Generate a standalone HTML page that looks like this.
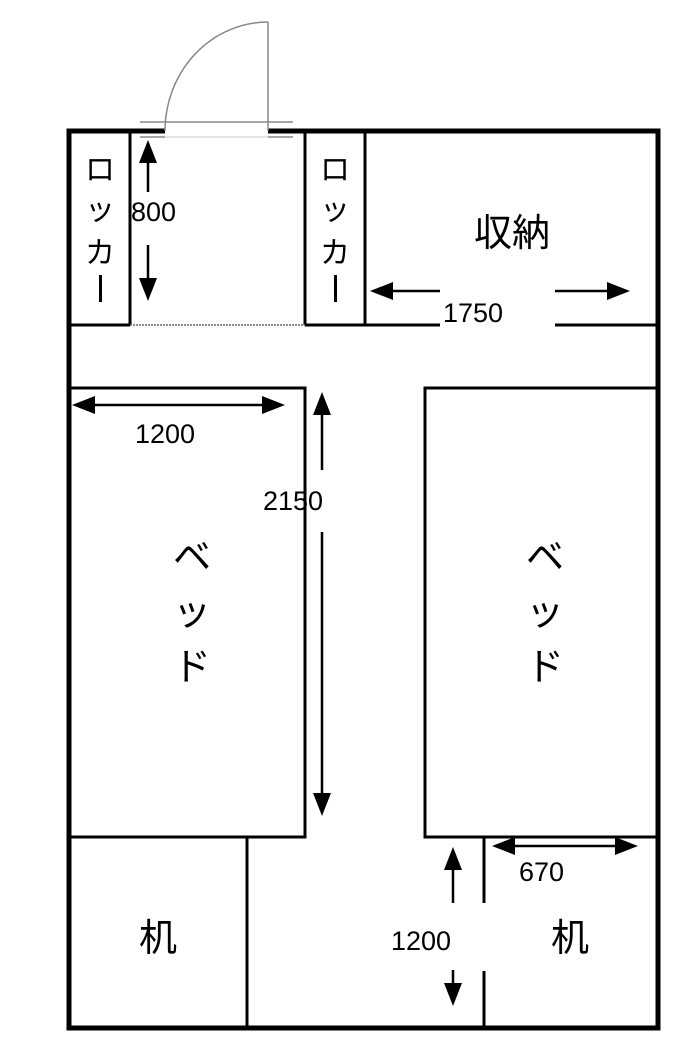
<!DOCTYPE html>
<html><head><meta charset="utf-8"><style>
body{margin:0;background:#fff}
svg{display:block}
text{font-family:"Liberation Sans","Noto Sans CJK JP",sans-serif;fill:#000}
</style></head><body>
<svg width="693" height="1059" viewBox="0 0 693 1059">
<g stroke="#000" fill="none">
<path d="M165,131H69V1028H658V131H268" stroke-width="5"/>
<path d="M130,131V325M69,325H130M305,131V325M365,131V325M305,325H440M555,325H658" stroke-width="3"/>
<path d="M130,325H305" stroke-width="1.5" stroke-dasharray="2,1" stroke="#666"/>
<path d="M69,388H305V837H69M658,388H425V837H658" stroke-width="3"/>
<path d="M247,837V1028M484,837V903M484,971V1028" stroke-width="3"/>
</g>
<g stroke="#888" fill="none" stroke-width="1.5">
<path d="M268,131V22"/>
<path d="M165,131A103,109 0 0 1 268,22"/>
<path d="M140,122H293M140,137H165M268,137H293"/>
</g>
<path d="M165,137H268" stroke="#ccc" stroke-width="1"/>
<g stroke="#000" stroke-width="2.5" fill="none">
<path d="M148,192V160M148,245V280"/>
<path d="M440,291H390M555,291H610"/>
<path d="M92,405H265"/>
<path d="M322,470V412M322,532V795"/>
<path d="M512,846H618"/>
<path d="M453,903V867M453,970V985"/>
</g>
<g fill="#000">
<polygon points="148,140 139,163 157,163"/>
<polygon points="148,301 139,278 157,278"/>
<polygon points="370,291 393,282 393,300"/>
<polygon points="630,291 607,282 607,300"/>
<polygon points="72,405 95,396 95,414"/>
<polygon points="285,405 262,396 262,414"/>
<polygon points="322,392 313,415 331,415"/>
<polygon points="322,816 313,793 331,793"/>
<polygon points="492,846 515,837 515,855"/>
<polygon points="638,846 615,837 615,855"/>
<polygon points="453,847 444,870 462,870"/>
<polygon points="453,1006 444,983 462,983"/>
</g>
<g font-size="27">
<text x="131" y="221">800</text>
<text x="443" y="322">1750</text>
<text x="135" y="443">1200</text>
<text x="263" y="510">2150</text>
<text x="519" y="881">670</text>
<text x="391" y="950">1200</text>
</g>
<g font-size="30" text-anchor="middle">
<text x="100" y="180">ロ</text><text x="100" y="220">ッ</text><text x="100" y="263">カ</text>
<text x="335" y="180">ロ</text><text x="335" y="220">ッ</text><text x="335" y="263">カ</text>
</g>
<g fill="#000">
<rect x="99" y="275" width="3" height="27"/>
<rect x="334" y="275" width="3" height="27"/>
</g>
<g font-size="38" text-anchor="middle">
<text x="512" y="246">収納</text>
<text x="192" y="570">ベ</text><text x="192" y="625">ッ</text><text x="192" y="680">ド</text>
<text x="545" y="570">ベ</text><text x="545" y="625">ッ</text><text x="545" y="680">ド</text>
<text x="158" y="951">机</text>
<text x="570" y="951">机</text>
</g>
</svg>
</body></html>
